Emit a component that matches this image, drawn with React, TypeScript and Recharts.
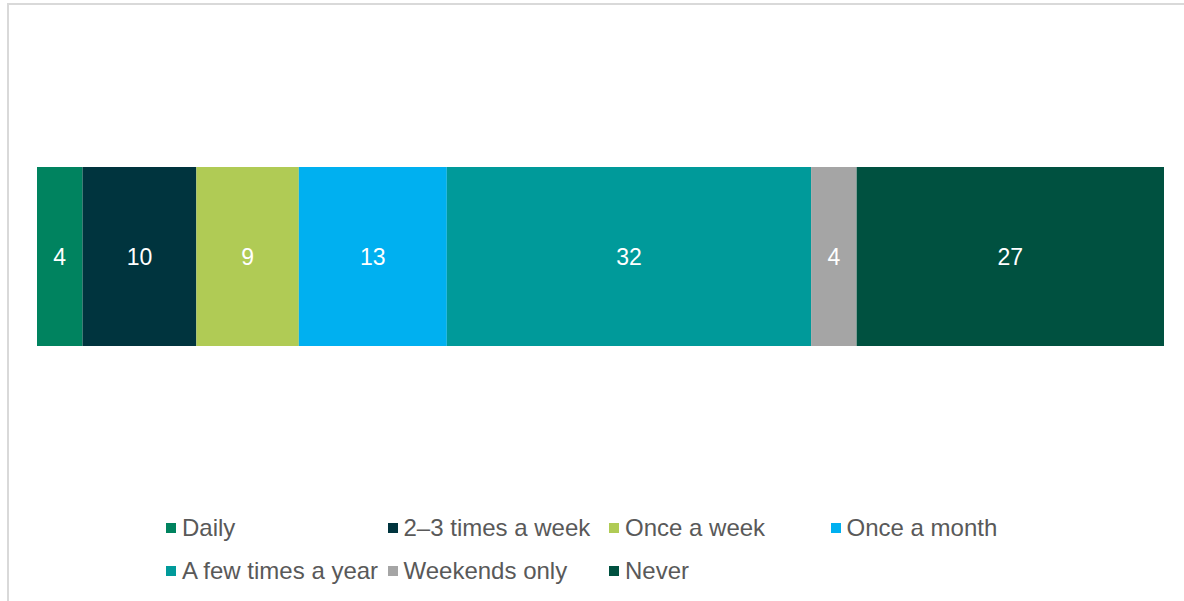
import React from "react";
import { BarChart, Bar, XAxis, YAxis, LabelList, Legend } from "recharts";

const categories = ["All"];
const seriesNames = [
  "Daily",
  "2–3 times a week",
  "Once a week",
  "Once a month",
  "A few times a year",
  "Weekends only",
  "Never",
];
const seriesValues = [4, 10, 9, 13, 32, 4, 27];
const seriesColors = [
  "#00835F",
  "#00343E",
  "#B0CB55",
  "#00B0F0",
  "#009A9A",
  "#A5A5A5",
  "#005140",
];

const data = categories.map((c) => {
  const row: Record<string, string | number> = { name: c };
  seriesNames.forEach((s, i) => {
    row[s] = seriesValues[i];
  });
  return row;
});

const FONT = "'Liberation Sans', Arial, sans-serif";

const renderLegend = () => (
  <div style={{ position: "relative", width: 1184, height: 90 }}>
    {seriesNames.map((s, i) => {
      const col = i % 4;
      const row = Math.floor(i / 4);
      return (
        <div
          key={s}
          style={{
            position: "absolute",
            left: 166 + col * 221.5,
            top: row * 43,
            display: "flex",
            alignItems: "center",
            fontFamily: FONT,
            fontSize: 24,
            color: "#595959",
            whiteSpace: "nowrap",
            lineHeight: "26px",
          }}
        >
          <span
            style={{
              display: "inline-block",
              width: 10,
              height: 10,
              background: seriesColors[i],
              marginRight: 6,
            }}
          />
          <span>{s}</span>
        </div>
      );
    })}
  </div>
);

export default function App() {
  return (
    <div
      style={{
        position: "absolute",
        left: 0,
        top: 0,
        width: 1184,
        height: 601,
        background: "#fff",
        overflow: "hidden",
      }}
    >
      <div
        style={{
          position: "absolute",
          left: 7,
          top: 3,
          width: 1184,
          height: 610,
          borderTop: "2px solid #D9D9D9",
          borderLeft: "2px solid #D9D9D9",
          boxSizing: "border-box",
        }}
      />
      <BarChart
        width={1184}
        height={601}
        data={data}
        layout="vertical"
        margin={{ top: 100, right: 20, bottom: 98, left: 37 }}
        barSize={179}
      >
        <XAxis type="number" domain={[0, 99]} hide />
        <YAxis type="category" dataKey="name" hide />
        <Legend
          content={renderLegend}
          wrapperStyle={{ position: "absolute", left: 0, top: 515, width: 1184 }}
        />
        {seriesNames.map((s, i) => (
          <Bar
            key={s}
            dataKey={s}
            stackId="a"
            fill={seriesColors[i]}
            isAnimationActive={false}
          >
            <LabelList
              dataKey={s}
              position="center"
              fill="#FFFFFF"
              style={{ fontFamily: FONT, fontSize: 23 }}
            />
          </Bar>
        ))}
      </BarChart>
    </div>
  );
}
